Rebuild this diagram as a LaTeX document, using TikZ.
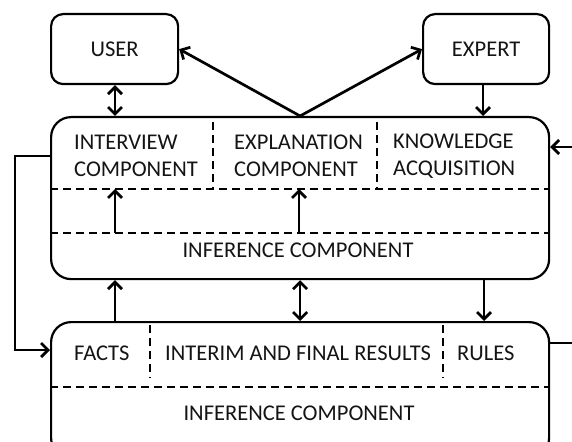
\documentclass[tikz,border=0pt]{standalone}
\usepackage{fontspec}
\setmainfont{Carlito}
\usetikzlibrary{arrows.meta}
\begin{document}
\begin{tikzpicture}[x=1bp,y=-1bp,
  box/.style={draw, line width=2.2bp, rounded corners=#1, inner sep=0, anchor=north west},
  sep/.style={line width=1.9bp, dash pattern=on 8bp off 5bp},
  lbl/.style={inner sep=0, font=\fontsize{22.6}{27.5}\selectfont, text=black!92},
  tip/.style={line width=2.7bp, -{Straight Barb[length=7bp,width=14bp]}},
  both/.style={line width=2.7bp, {Straight Barb[length=7bp,width=14bp]}-{Straight Barb[length=7bp,width=14bp]}},
  wire/.style={line width=2.7bp}
]
\useasboundingbox (0,0) rectangle (572,442);
\clip (0,0) rectangle (572,442);

% outer boxes
\node[box=12bp, minimum width=127bp, minimum height=70bp] (user) at (50,13) {};
\node[box=12bp, minimum width=126bp, minimum height=70bp] (expert) at (422,13) {};
\node[box=20bp, minimum width=498bp, minimum height=162bp] (top) at (50,116) {};
\node[box=20bp, minimum width=498bp, minimum height=136bp] (bot) at (50,321) {};

\node[lbl] (userlbl) at (user.center) {USER};
\node[lbl] (expertlbl) at (expert.center) {EXPERT};

% upper block: sub-components and inference layer
\draw[sep] (213,122) -- (213,189);
\draw[sep] (377,122) -- (377,189);
\draw[sep] (top.west |- 0,189) -- (top.east |- 0,189);
\draw[sep] (top.west |- 0,233) -- (top.east |- 0,233);
\node[lbl, align=left, anchor=west] (interview) at (74,156) {INTERVIEW\\COMPONENT};
\node[lbl, align=left, anchor=west] (explain) at (234,156) {EXPLANATION\\COMPONENT};
\node[lbl, align=left, anchor=west] (knowledge) at (393,156) {KNOWLEDGE\\ACQUISITION};
\node[lbl] (inferA) at (298,250) {INFERENCE COMPONENT};
\coordinate (ia) at (115,233);
\coordinate (ib) at (299,233);
\draw[tip] (ia) -- (115,189);
\draw[tip] (ib) -- (299,189);

% lower block: data store
\draw[sep] (150,325) -- (150,378);
\draw[sep] (443,325) -- (443,378);
\draw[sep] (bot.west |- 0,387) -- (bot.east |- 0,387);
\node[lbl, anchor=west] (facts) at (74,353) {FACTS};
\node[lbl, anchor=west] (interim) at (165,353) {INTERIM AND FINAL RESULTS};
\node[lbl, anchor=west] (rules) at (457,353) {RULES};
\node[lbl] (inferB) at (299,413) {INFERENCE COMPONENT};

% connectors between the blocks
\draw[both] (user.south -| 115,0) -- (top.north -| 115,0);
\draw[tip] (expert.south -| 483,0) -- (top.north -| 483,0);
\draw[tip] (top.north) -- (user.east);
\draw[tip] (top.north) -- (expert.west);
\draw[tip] (bot.north -| 115,0) -- (top.south -| 115,0);
\draw[both] (top.south) -- (bot.north);
\draw[tip] (top.south -| 484,0) -- (bot.north -| 484,0);

% feedback loops along the sides
\coordinate (leftout) at (top.west |- 0,156);
\draw[tip] (leftout) -- (15,156) -- (15,350) -- (bot.west |- 0,350);
\coordinate (rightend) at (572,343);
\draw[wire] (bot.east |- rightend) -- (rightend);
\coordinate (rightin) at (572,147);
\draw[tip] (rightin) -- (top.east |- rightin);
\end{tikzpicture}
\end{document}
